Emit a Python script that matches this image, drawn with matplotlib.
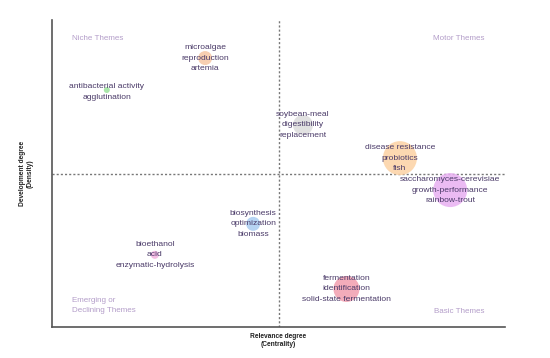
import matplotlib
matplotlib.use("Agg")
import matplotlib.pyplot as plt

# Thematic map data (centrality, density normalized 0-100)
themes = [
    "microalgae\nreproduction\nartemia",
    "antibacterial activity\nagglutination",
    "soybean-meal\ndigestibility\nreplacement",
    "disease resistance\nprobiotics\nfish",
    "saccharomyces-cerevisiae\ngrowth-performance\nrainbow-trout",
    "biosynthesis\noptimization\nbiomass",
    "bioethanol\nacid\nenzymatic-hydrolysis",
    "fermentation\nidentification\nsolid-state fermentation",
]
centrality = [33.8, 12.1, 55.4, 76.8, 87.9, 44.4, 22.7, 65.0]
density = [87.6, 77.2, 65.8, 55.0, 44.6, 33.6, 23.5, 12.4]
cluster_size = [7, 3, 10, 17, 17, 7, 4, 13]
colors = ["#f6c7a4", "#9be39b", "#dcdcdc", "#fcd2a4", "#e8b0f2", "#a9cdf2", "#f5b3e0", "#f29eae"]

quadrants = ["Niche Themes", "Motor Themes", "Emerging or\nDeclining Themes", "Basic Themes"]

fig = plt.figure(figsize=(5.5, 3.58), dpi=100)
ax = fig.add_axes([52/550, 31/358, 453/550, 307/358])
ax.set_xlim(0, 100)
ax.set_ylim(0, 100)

# marker sizes: radius in px -> area in pt^2
sizes = [(2 * r * 0.72) ** 2 for r in cluster_size]
ax.scatter(centrality, density, s=sizes, c=colors, alpha=0.85, edgecolors="none", zorder=2)

for i, (x, y, t) in enumerate(zip(centrality, density, themes)):
    ax.text(x, y - (0.6 if t.count("\n") == 1 else 0), t, ha="center", va="center",
            fontsize=6.1, color="#4a3a68", linespacing=1.7, zorder=3, family="Liberation Sans")

ax.axvline(50, color="#777777", linestyle=(0, (1.5, 1.5)), linewidth=1.0, zorder=1)
ax.axhline(50, color="#777777", linestyle=(0, (1.5, 1.5)), linewidth=1.0, zorder=1)

qcol = "#b39dc9"
ax.text(4.4, 94, quadrants[0], ha="left", va="center", fontsize=5.8, color=qcol, family="Liberation Sans")
ax.text(95.5, 94, quadrants[1], ha="right", va="center", fontsize=5.8, color=qcol, family="Liberation Sans")
ax.text(4.4, 7.0, quadrants[2], ha="left", va="center", fontsize=5.8, color=qcol,
        linespacing=1.7, family="Liberation Sans")
ax.text(95.5, 5.0, quadrants[3], ha="right", va="center", fontsize=5.8, color=qcol, family="Liberation Sans")

for s in ["top", "right"]:
    ax.spines[s].set_visible(False)
for s in ["left", "bottom"]:
    ax.spines[s].set_color("#555555")
    ax.spines[s].set_linewidth(1.2)
ax.set_xticks([])
ax.set_yticks([])

ax.set_xlabel("Relevance degree\n(Centrality)", fontsize=4.8, fontweight="bold",
              color="#222222", labelpad=4, family="Liberation Sans")
ax.set_ylabel("Development degree\n(Density)", fontsize=4.8, fontweight="bold",
              color="#222222", labelpad=13, family="Liberation Sans")

fig.savefig("out.png", dpi=100)
